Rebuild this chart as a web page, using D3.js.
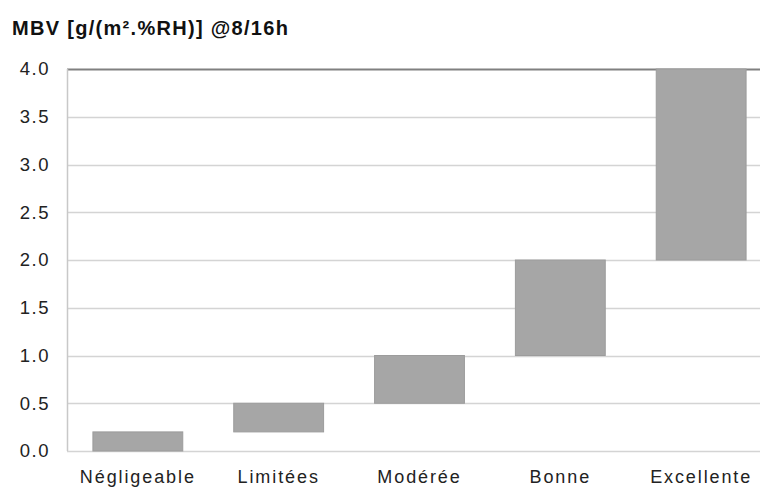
<!DOCTYPE html>
<html><head><meta charset="utf-8">
<script src="https://cdn.jsdelivr.net/npm/d3@7"></script>
<style>body{margin:0;background:#fff}svg{display:block}</style>
</head><body>
<script>
const categories = ["Négligeable", "Limitées", "Modérée", "Bonne", "Excellente"];
const lowValues = [0.0, 0.2, 0.5, 1.0, 2.0];
const highValues = [0.2, 0.5, 1.0, 2.0, 4.0];
const yTicks = [0, 0.5, 1.0, 1.5, 2.0, 2.5, 3.0, 3.5, 4.0];
const title = "MBV [g/(m².%RH)] @8/16h";

const W = 760, H = 489;
const m = {left: 67, top: 69, bottom: 38};
const FONT = "Arial, 'Liberation Sans', sans-serif";
const svg = d3.select("body").append("svg").attr("width", W).attr("height", H);
const x = d3.scaleBand().domain(categories).range([m.left, 772]).paddingInner(0.362).paddingOuter(0.184);
const y = d3.scaleLinear().domain([0, 4]).range([H - m.bottom, m.top]);

svg.append("text").attr("x", 12).attr("y", 35).text(title)
  .attr("font-family", FONT).attr("font-weight", "bold")
  .attr("font-size", 20).attr("letter-spacing", 1.3).attr("fill", "#111");

// gridlines
svg.append("g").selectAll("line").data(yTicks).join("line")
  .attr("x1", m.left).attr("x2", W).attr("y1", d => Math.round(y(d)) + 0.5).attr("y2", d => Math.round(y(d)) + 0.5)
  .attr("stroke", d => d === 4 ? "#808080" : "#d4d4d4").attr("stroke-width", d => d === 4 ? 2 : 1.5);

// bars
svg.append("g").selectAll("rect").data(categories).join("rect")
  .attr("x", d => x(d)).attr("width", x.bandwidth())
  .attr("y", (d, i) => y(highValues[i])).attr("height", (d, i) => y(lowValues[i]) - y(highValues[i]))
  .attr("fill", "#a6a6a6").attr("stroke", "#9c9c9c").attr("stroke-width", 1);

// left axis line
svg.append("line").attr("x1", m.left + 0.5).attr("x2", m.left + 0.5).attr("y1", y(4)).attr("y2", y(0))
  .attr("stroke", "#c8c8c8").attr("stroke-width", 1.5);

const yAxis = d3.axisLeft(y).tickValues(yTicks).tickFormat(d3.format(".1f")).tickSize(0).tickPadding(17);
const ga = svg.append("g").attr("transform", `translate(${m.left},0)`).call(yAxis);
ga.select(".domain").remove();
ga.selectAll("text").attr("font-family", FONT).attr("font-size", 18.5).attr("letter-spacing", 1.5).attr("fill", "#222");

const xAxis = d3.axisBottom(x).tickSize(0).tickPadding(19);
const gx = svg.append("g").attr("transform", `translate(0,${y(0)})`).call(xAxis);
gx.select(".domain").remove();
gx.selectAll("text").attr("font-family", FONT).attr("font-size", 18).attr("letter-spacing", 1.9).attr("fill", "#222");
</script>
</body></html>
